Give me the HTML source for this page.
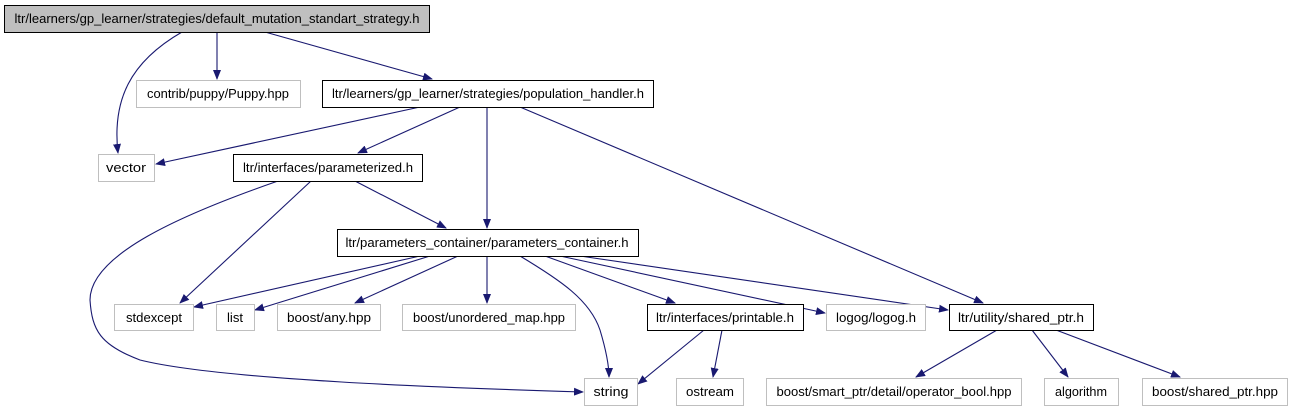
<!DOCTYPE html>
<html><head><meta charset="utf-8"><style>
html,body{margin:0;padding:0;background:#fff;}
svg{display:block;}
text{font-family:"Liberation Sans",sans-serif;font-size:13px;fill:#000;}
.e{fill:none;stroke:#191970;stroke-width:1.1;}
</style></head><body>
<svg width="1292" height="411" viewBox="0 0 1292 411" xmlns="http://www.w3.org/2000/svg">
<defs><marker id="a" markerWidth="10" markerHeight="8" refX="9" refY="4" orient="auto" markerUnits="userSpaceOnUse"><path d="M0,0 L10,4 L0,8 Z" fill="#191970"/></marker></defs>
<g class="e" marker-end="url(#a)">
<path d="M182,32 C130,62 112,100 118,153"/>
<path d="M217,32 L217,79"/>
<path d="M265,32 L432,79"/>
<path d="M420,107 L156,164"/>
<path d="M460,107 L358,153"/>
<path d="M487,107 L487,228"/>
<path d="M520,107 L983,303"/>
<path d="M311,181 L180,303"/>
<path d="M355,181 L446,228"/>
<path d="M278,181 C180,215 90,255 90,300 C92,330 100,345 140,360 C220,380 450,388 583,392"/>
<path d="M420,256 L194,307"/>
<path d="M430,256 L255,310"/>
<path d="M458,256 L355,303"/>
<path d="M487,256 L487,303"/>
<path d="M520,256 C560,280 590,300 600,330 C606,350 609,365 609,377"/>
<path d="M545,256 L675,303"/>
<path d="M560,256 L825,313"/>
<path d="M580,256 L948,310"/>
<path d="M704,330 L638,384"/>
<path d="M722,330 L713,377"/>
<path d="M997,330 L916,377"/>
<path d="M1032,330 L1068,377"/>
<path d="M1056,330 L1180,377"/>
</g>
<g stroke-width="1">
<rect x="4.5" y="5.5" width="425" height="27" fill="#bfbfbf" stroke="#000"/>
<rect x="136.5" y="80.5" width="164" height="27" fill="#fff" stroke="#bfbfbf"/>
<rect x="322.5" y="80.5" width="331" height="27" fill="#fff" stroke="#000"/>
<rect x="98.5" y="154.5" width="56" height="27" fill="#fff" stroke="#bfbfbf"/>
<rect x="233.5" y="154.5" width="189" height="27" fill="#fff" stroke="#000"/>
<rect x="337.5" y="229.5" width="301" height="27" fill="#fff" stroke="#000"/>
<rect x="114.5" y="304.5" width="79" height="26" fill="#fff" stroke="#bfbfbf"/>
<rect x="216.5" y="304.5" width="38" height="26" fill="#fff" stroke="#bfbfbf"/>
<rect x="277.5" y="304.5" width="103" height="26" fill="#fff" stroke="#bfbfbf"/>
<rect x="402.5" y="304.5" width="173" height="26" fill="#fff" stroke="#bfbfbf"/>
<rect x="647.5" y="304.5" width="156" height="26" fill="#fff" stroke="#000"/>
<rect x="826.5" y="304.5" width="99" height="26" fill="#fff" stroke="#bfbfbf"/>
<rect x="949.5" y="304.5" width="144" height="26" fill="#fff" stroke="#000"/>
<rect x="584.5" y="378.5" width="53" height="27" fill="#fff" stroke="#bfbfbf"/>
<rect x="676.5" y="378.5" width="67" height="27" fill="#fff" stroke="#bfbfbf"/>
<rect x="766.5" y="378.5" width="255" height="27" fill="#fff" stroke="#bfbfbf"/>
<rect x="1044.5" y="378.5" width="74" height="27" fill="#fff" stroke="#bfbfbf"/>
<rect x="1142.5" y="378.5" width="145" height="27" fill="#fff" stroke="#bfbfbf"/>
</g>
<g text-anchor="middle">
<text x="217" y="23" textLength="405" lengthAdjust="spacingAndGlyphs">ltr/learners/gp_learner/strategies/default_mutation_standart_strategy.h</text>
<text x="218" y="98" textLength="142" lengthAdjust="spacingAndGlyphs">contrib/puppy/Puppy.hpp</text>
<text x="488" y="98" textLength="312" lengthAdjust="spacingAndGlyphs">ltr/learners/gp_learner/strategies/population_handler.h</text>
<text x="126" y="172" textLength="40" lengthAdjust="spacingAndGlyphs">vector</text>
<text x="328" y="172" textLength="170" lengthAdjust="spacingAndGlyphs">ltr/interfaces/parameterized.h</text>
<text x="487" y="247" textLength="283" lengthAdjust="spacingAndGlyphs">ltr/parameters_container/parameters_container.h</text>
<text x="154" y="322" textLength="56" lengthAdjust="spacingAndGlyphs">stdexcept</text>
<text x="235" y="322" textLength="16" lengthAdjust="spacingAndGlyphs">list</text>
<text x="329" y="322" textLength="84" lengthAdjust="spacingAndGlyphs">boost/any.hpp</text>
<text x="489" y="322" textLength="152" lengthAdjust="spacingAndGlyphs">boost/unordered_map.hpp</text>
<text x="725" y="322" textLength="138" lengthAdjust="spacingAndGlyphs">ltr/interfaces/printable.h</text>
<text x="876" y="322" textLength="80" lengthAdjust="spacingAndGlyphs">logog/logog.h</text>
<text x="1021" y="322" textLength="126" lengthAdjust="spacingAndGlyphs">ltr/utility/shared_ptr.h</text>
<text x="611" y="396" textLength="35" lengthAdjust="spacingAndGlyphs">string</text>
<text x="710" y="396" textLength="48" lengthAdjust="spacingAndGlyphs">ostream</text>
<text x="894" y="396" textLength="235" lengthAdjust="spacingAndGlyphs">boost/smart_ptr/detail/operator_bool.hpp</text>
<text x="1081" y="396" textLength="52" lengthAdjust="spacingAndGlyphs">algorithm</text>
<text x="1215" y="396" textLength="126" lengthAdjust="spacingAndGlyphs">boost/shared_ptr.hpp</text>
</g>
</svg>
</body></html>
